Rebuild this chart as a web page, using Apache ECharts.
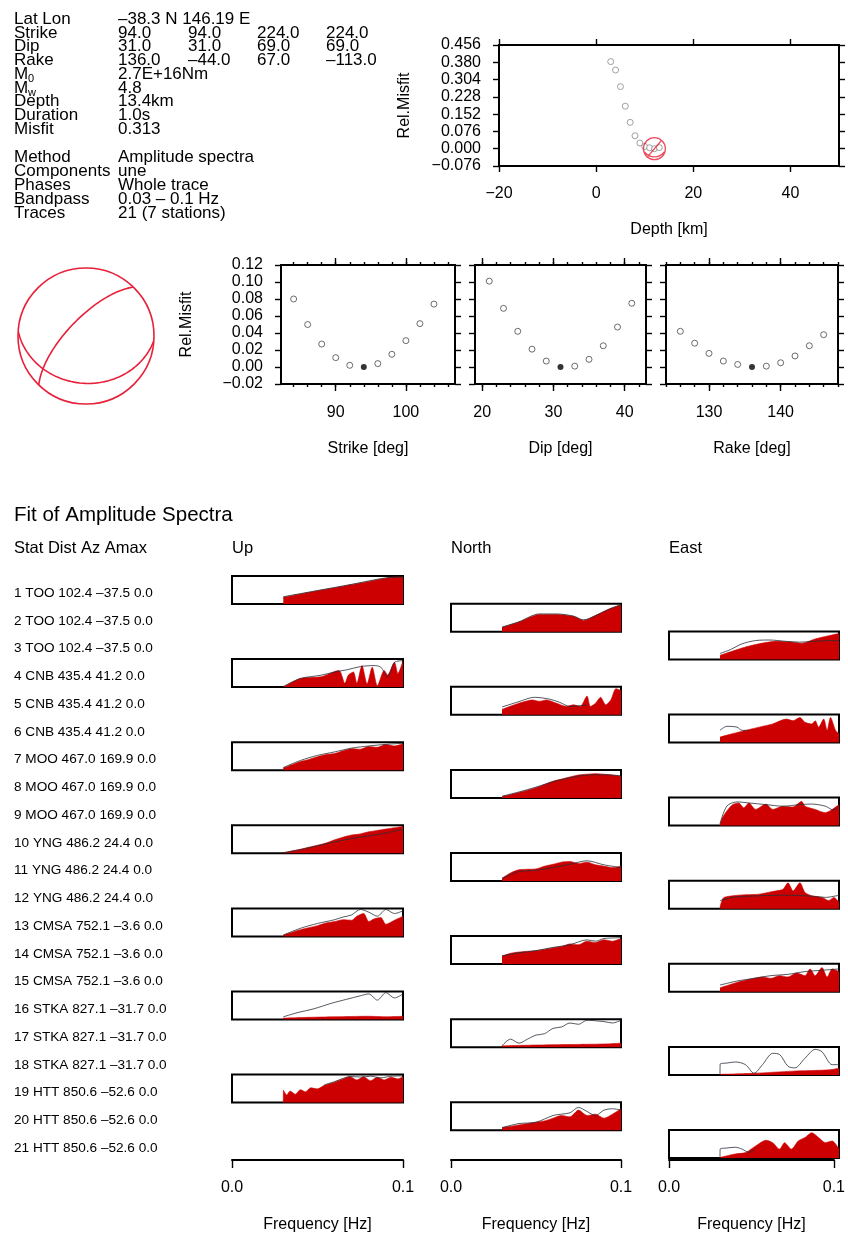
<!DOCTYPE html>
<html>
<head>
<meta charset="utf-8">
<script src="https://cdn.jsdelivr.net/npm/echarts@6/dist/echarts.min.js"></script>
<style>
html, body { margin: 0; background: #fff; }
#chart { width: 848px; height: 1234px; }
</style>
</head>
<body>
<div id="chart"></div>
<script>
// ---- header values ----
const latLon = "\u201338.3 N 146.19 E";
const strikes = [94.0, 94.0, 224.0, 224.0];
const dips = [31.0, 31.0, 69.0, 69.0];
const rakes = [136.0, -44.0, 67.0, -113.0];
const moment = "2.7E+16Nm";
const magnitude = 4.8;
const depth = 13.4;
const duration = 1.0;
const misfit = 0.313;
const method = "Amplitude spectra";
const comps = "une";
const phases = "Whole trace";
const bandpass = "0.03 \u2013 0.1 Hz";
const traces = "21 (7 stations)";

// ---- depth misfit ----
const depthKm = [3, 4, 5, 6, 7, 8, 9, 10, 11, 12, 13];
const depthMisfit = [0.383, 0.346, 0.273, 0.187, 0.116, 0.057, 0.025, 0.010, 0.004, 0.000, 0.005];
const depthXTicks = [-20, 0, 20, 40];
const depthYTicks = [-0.076, 0, 0.076, 0.152, 0.228, 0.304, 0.380, 0.456];

// ---- strike / dip / rake misfit ----
const strikeDeg = [84, 86, 88, 90, 92, 94, 96, 98, 100, 102, 104];
const strikeMisfit = [0.080, 0.050, 0.027, 0.011, 0.002, 0.000, 0.004, 0.015, 0.031, 0.051, 0.074];
const dipDeg = [21, 23, 25, 27, 29, 31, 33, 35, 37, 39, 41];
const dipMisfit = [0.101, 0.069, 0.042, 0.021, 0.007, 0.000, 0.001, 0.009, 0.025, 0.047, 0.075];
const rakeDeg = [126, 128, 130, 132, 134, 136, 138, 140, 142, 144, 146];
const rakeMisfit = [0.042, 0.028, 0.016, 0.007, 0.003, 0.000, 0.001, 0.005, 0.013, 0.025, 0.038];
const paramYTicks = [-0.02, 0, 0.02, 0.04, 0.06, 0.08, 0.10, 0.12];

// ---- nodal planes ----
const planeStrike = [94, 224];
const planeDip = [31, 69];

// ---- stations ----
const stations = ["TOO", "CNB", "MOO", "YNG", "CMSA", "STKA", "HTT"];
const distKm = [102.4, 435.4, 467.0, 486.2, 752.1, 827.1, 850.6];
const azimuth = [-37.5, 41.2, 169.9, 24.4, -3.6, -31.7, -52.6];
const compNames = ["Up", "North", "East"];
const freqTicks = [0, 0.1];

// ---- spectra: red fill and black line, [Hz, normalised amplitude] ----
const fill01 = [[0.03,0.25],[0.04,0.37],[0.05,0.49],[0.06,0.6],[0.07,0.72],[0.08,0.84],[0.09,0.96],[0.095,1.0],[0.1,1.0]];
const line01 = [[0.03,0.27],[0.05,0.5],[0.07,0.73],[0.09,0.97],[0.1,1.0]];
const fill02 = [[0.03,0.16],[0.04,0.36],[0.052,0.64],[0.062,0.64],[0.072,0.57],[0.078,0.42],[0.085,0.6],[0.093,0.84],[0.1,1.0]];
const line02 = [[0.03,0.17],[0.04,0.37],[0.052,0.66],[0.062,0.66],[0.072,0.58],[0.078,0.44],[0.085,0.6],[0.093,0.84],[0.1,1.0]];
const fill03 = [[0.03,0.15],[0.0375,0.31],[0.045,0.46],[0.053,0.58],[0.063,0.67],[0.073,0.64],[0.078,0.6],[0.086,0.76],[0.094,0.88],[0.1,0.96]];
const line03 = [[0.03,0.22],[0.036,0.36],[0.043,0.58],[0.051,0.7],[0.059,0.72],[0.069,0.67],[0.077,0.64],[0.085,0.67],[0.093,0.7],[0.1,0.7]];
const fill04 = [[0.03,0.0],[0.04,0.32],[0.052,0.38],[0.0625,0.62],[0.066,0.14],[0.068,0.44],[0.071,0.56],[0.073,0.14],[0.076,0.8],[0.079,0.12],[0.082,0.74],[0.085,0.05],[0.089,0.62],[0.091,0.45],[0.095,0.92],[0.097,0.5],[0.1,0.98]];
const line04 = [[0.03,0.02],[0.04,0.32],[0.052,0.44],[0.06,0.56],[0.067,0.64],[0.075,0.76],[0.083,0.8],[0.087,0.74],[0.091,0.38],[0.095,0.92],[0.1,0.98]];
const fill05 = [[0.03,0.2],[0.04,0.43],[0.048,0.55],[0.052,0.5],[0.056,0.55],[0.062,0.43],[0.068,0.31],[0.072,0.37],[0.076,0.31],[0.08,0.7],[0.082,0.31],[0.085,0.43],[0.088,0.65],[0.091,0.37],[0.094,0.55],[0.097,0.97],[0.1,0.9]];
const line05 = [[0.03,0.29],[0.04,0.49],[0.049,0.65],[0.058,0.58],[0.064,0.46],[0.07,0.31],[0.076,0.34],[0.08,0.36]];
const fill06 = [[0.03,0.2],[0.0375,0.33],[0.045,0.45],[0.053,0.57],[0.061,0.69],[0.069,0.87],[0.073,0.81],[0.077,0.93],[0.08,0.75],[0.084,0.69],[0.086,0.81],[0.088,0.57],[0.091,0.87],[0.093,0.45],[0.095,0.93],[0.098,0.45],[0.1,0.33]];
const line06 = [[0.03,0.45],[0.034,0.6],[0.04,0.57],[0.043,0.45],[0.047,0.45]];
const fill07 = [[0.03,0.08],[0.035,0.2],[0.04,0.32],[0.045,0.4],[0.05,0.5],[0.055,0.58],[0.06,0.62],[0.065,0.72],[0.07,0.8],[0.075,0.78],[0.08,0.88],[0.085,0.85],[0.09,0.95],[0.095,0.9],[0.1,0.98]];
const line07 = [[0.03,0.1],[0.04,0.36],[0.05,0.55],[0.06,0.68],[0.07,0.82],[0.08,0.9],[0.09,0.96],[0.1,1.0]];
const fill08 = [[0.03,0.05],[0.04,0.2],[0.05,0.38],[0.055,0.5],[0.06,0.62],[0.065,0.7],[0.07,0.78],[0.075,0.85],[0.08,0.88],[0.085,0.9],[0.09,0.88],[0.095,0.85],[0.1,0.8]];
const line08 = [[0.03,0.06],[0.04,0.22],[0.05,0.4],[0.06,0.6],[0.07,0.75],[0.08,0.85],[0.09,0.86],[0.1,0.82]];
const fill09 = [[0.03,0.0],[0.031,0.24],[0.034,0.54],[0.0375,0.78],[0.041,0.84],[0.044,0.66],[0.047,0.84],[0.051,0.6],[0.057,0.8],[0.061,0.6],[0.067,0.72],[0.073,0.69],[0.078,0.9],[0.08,0.72],[0.086,0.6],[0.092,0.48],[0.096,0.6],[0.1,0.78]];
const line09 = [[0.03,0.06],[0.034,0.72],[0.04,0.88],[0.047,0.84],[0.057,0.78],[0.067,0.72],[0.077,0.78],[0.084,0.8],[0.092,0.72],[0.097,0.57],[0.1,0.72]];
const fill10 = [[0.03,0.02],[0.04,0.15],[0.05,0.3],[0.055,0.38],[0.06,0.5],[0.065,0.6],[0.07,0.68],[0.075,0.72],[0.08,0.8],[0.085,0.85],[0.09,0.9],[0.095,0.95],[0.1,1.0]];
const line10 = [[0.03,0.02],[0.04,0.14],[0.05,0.28],[0.06,0.42],[0.07,0.55],[0.08,0.65],[0.09,0.75],[0.1,0.9]];
const fill11 = [[0.03,0.1],[0.035,0.3],[0.04,0.42],[0.05,0.45],[0.055,0.55],[0.06,0.62],[0.065,0.7],[0.07,0.72],[0.075,0.65],[0.08,0.7],[0.085,0.6],[0.09,0.55],[0.095,0.5],[0.1,0.55]];
const line11 = [[0.03,0.1],[0.04,0.35],[0.05,0.4],[0.06,0.5],[0.07,0.62],[0.08,0.75],[0.09,0.6],[0.1,0.5]];
const fill12 = [[0.03,0.05],[0.032,0.4],[0.0375,0.48],[0.045,0.52],[0.053,0.54],[0.061,0.64],[0.067,0.72],[0.07,0.96],[0.073,0.66],[0.077,0.96],[0.08,0.6],[0.084,0.48],[0.09,0.42],[0.094,0.3],[0.097,0.42],[0.1,0.24]];
const line12 = [[0.03,0.3],[0.0375,0.42],[0.053,0.48],[0.07,0.5],[0.085,0.46],[0.092,0.42],[0.1,0.5]];
const fill13 = [[0.03,0.05],[0.04,0.25],[0.05,0.4],[0.055,0.5],[0.06,0.55],[0.065,0.62],[0.07,0.6],[0.073,0.75],[0.077,0.85],[0.08,0.55],[0.083,0.65],[0.087,0.7],[0.09,0.45],[0.095,0.6],[0.1,0.75]];
const line13 = [[0.03,0.05],[0.04,0.3],[0.05,0.48],[0.06,0.62],[0.065,0.72],[0.07,0.8],[0.075,1.0],[0.08,0.9],[0.085,0.75],[0.09,1.0],[0.095,0.85],[0.1,0.95]];
const fill14 = [[0.03,0.3],[0.035,0.4],[0.04,0.45],[0.05,0.5],[0.06,0.6],[0.065,0.65],[0.07,0.75],[0.075,0.72],[0.08,0.85],[0.085,0.8],[0.09,0.9],[0.095,0.85],[0.1,0.95]];
const line14 = [[0.03,0.3],[0.04,0.42],[0.05,0.5],[0.06,0.62],[0.07,0.72],[0.08,0.9],[0.085,0.85],[0.09,0.95],[0.1,0.98]];
const fill15 = [[0.03,0.15],[0.04,0.35],[0.05,0.5],[0.055,0.55],[0.06,0.5],[0.065,0.6],[0.07,0.55],[0.075,0.7],[0.08,0.6],[0.083,0.85],[0.086,0.6],[0.09,0.9],[0.093,0.55],[0.096,0.85],[0.1,0.75]];
const line15 = [[0.03,0.25],[0.04,0.4],[0.05,0.5],[0.06,0.6],[0.07,0.65],[0.08,0.75],[0.09,0.8],[0.1,0.85]];
const fill16 = [[0.03,0.05],[0.045,0.08],[0.06,0.1],[0.08,0.12],[0.09,0.1],[0.1,0.12]];
const line16 = [[0.03,0.1],[0.038,0.25],[0.048,0.4],[0.058,0.6],[0.067,0.75],[0.075,0.88],[0.08,0.95],[0.085,0.72],[0.09,1.0],[0.095,0.8],[0.1,0.95]];
const fill17 = [[0.03,0.05],[0.05,0.08],[0.07,0.1],[0.09,0.12],[0.1,0.15]];
const line17 = [[0.03,0.05],[0.035,0.3],[0.04,0.15],[0.045,0.3],[0.05,0.45],[0.055,0.5],[0.06,0.7],[0.065,0.75],[0.07,0.9],[0.075,0.85],[0.08,1.0],[0.09,0.95],[0.095,0.9],[0.1,1.0]];
const fill18 = [[0.03,0.02],[0.05,0.06],[0.073,0.14],[0.088,0.17],[0.096,0.2],[0.1,0.26]];
const line18 = [[0.03,0.0],[0.0301,0.4],[0.034,0.44],[0.039,0.48],[0.045,0.38],[0.05,0.06],[0.055,0.38],[0.061,0.8],[0.065,0.76],[0.07,0.32],[0.074,0.26],[0.08,0.62],[0.086,0.95],[0.09,0.86],[0.096,0.38],[0.1,0.38]];
const fill19 = [[0.03,0.0],[0.0301,0.46],[0.032,0.28],[0.034,0.43],[0.037,0.31],[0.04,0.48],[0.043,0.4],[0.046,0.55],[0.05,0.51],[0.054,0.64],[0.06,0.76],[0.065,0.88],[0.069,0.96],[0.073,0.84],[0.077,0.96],[0.081,0.81],[0.085,0.94],[0.089,0.84],[0.093,0.94],[0.097,0.88],[0.1,0.96]];
const line19 = [[0.054,0.66],[0.06,0.78],[0.065,0.9],[0.069,0.97],[0.075,0.95],[0.081,0.98],[0.087,0.92],[0.093,0.98],[0.1,0.99]];
const fill20 = [[0.03,0.1],[0.04,0.2],[0.05,0.3],[0.055,0.35],[0.06,0.45],[0.065,0.55],[0.07,0.5],[0.075,0.75],[0.08,0.55],[0.085,0.6],[0.09,0.45],[0.095,0.6],[0.1,0.8]];
const line20 = [[0.03,0.1],[0.04,0.25],[0.05,0.3],[0.06,0.55],[0.065,0.6],[0.07,0.65],[0.075,0.85],[0.08,0.7],[0.085,0.55],[0.09,0.75],[0.095,0.8],[0.1,0.75]];
const fill21 = [[0.03,0.02],[0.039,0.15],[0.045,0.2],[0.051,0.45],[0.057,0.66],[0.061,0.57],[0.065,0.33],[0.068,0.57],[0.072,0.33],[0.076,0.63],[0.08,0.76],[0.084,0.94],[0.088,0.76],[0.092,0.57],[0.096,0.63],[0.1,0.33]];
const line21 = [[0.03,0.0],[0.0301,0.33],[0.034,0.37],[0.039,0.4],[0.043,0.33],[0.047,0.21],[0.05,0.3]];

const fills = [fill01, fill02, fill03, fill04, fill05, fill06, fill07, fill08, fill09, fill10, fill11, fill12, fill13, fill14, fill15, fill16, fill17, fill18, fill19, fill20, fill21];
const lines = [line01, line02, line03, line04, line05, line06, line07, line08, line09, line10, line11, line12, line13, line14, line15, line16, line17, line18, line19, line20, line21];

const ink = "#000";
const red = "#cc0000";
const ballRed = "#e8203a";
const font = '"Liberation Sans", Helvetica, Arial, sans-serif';
const dash = (s) => String(s).replace("-", "\u2013");
const minus = (v, d) => v.toFixed(d).replace("-", "\u2212");

const grids = [];
const xAxes = [];
const yAxes = [];
const series = [];
const graphic = [];

const addGrid = (g) => { grids.push(g); return grids.length - 1; };
const addX = (a) => { xAxes.push(a); return xAxes.length - 1; };
const addY = (a) => { yAxes.push(a); return yAxes.length - 1; };

const txt = (x, y, text, size, extra) => {
    graphic.push({
        type: "text", x: x, y: y, silent: true,
        style: Object.assign({ text: text, fontSize: size, fontFamily: font, fill: ink, verticalAlign: "middle" }, extra || {})
    });
};

// axis that only draws ticks (outside the box) at the given values
const tickAxis = (grid, pos, ticks, len, extra) => Object.assign({
    gridIndex: grid, type: "value", position: pos,
    axisLine: { show: false, onZero: false },
    axisTick: { show: true, inside: false, length: len, customValues: ticks, lineStyle: { color: ink, width: 1.4 } },
    axisLabel: { show: false },
    splitLine: { show: false }
}, extra || {});

const labelStyle = { color: ink, fontSize: 16, fontFamily: font };

// ---------- header text ----------
const rowY = [19, 33, 46.5, 60, 74, 88, 101.5, 115.5, 129, 157, 171, 185, 199, 213];
const headRows = [
    ["Lat Lon", [latLon]],
    ["Strike", strikes.map((v) => v.toFixed(1))],
    ["Dip", dips.map((v) => v.toFixed(1))],
    ["Rake", rakes.map((v) => dash(v.toFixed(1)))],
    ["M", [moment]],
    ["M", [magnitude.toFixed(1)]],
    ["Depth", [depth.toFixed(1) + "km"]],
    ["Duration", [duration.toFixed(1) + "s"]],
    ["Misfit", [misfit.toFixed(3)]],
    ["Method", [method]],
    ["Components", [comps]],
    ["Phases", [phases]],
    ["Bandpass", [bandpass]],
    ["Traces", [traces]]
];
const colX = [118, 188, 257, 326];
headRows.forEach((r, i) => {
    txt(14, rowY[i], r[0], 17);
    r[1].forEach((v, j) => txt(colX[j], rowY[i], v, 17));
});
txt(28, rowY[4] + 5, "0", 11);
txt(28, rowY[5] + 5, "w", 11);

// ---------- depth plot ----------
const gD = addGrid({ left: 499, top: 45, width: 340, height: 121, show: true, borderColor: ink, borderWidth: 2 });
const xD = addX(tickAxis(gD, "bottom", depthXTicks, 6, {
    min: -20, max: 50,
    axisLabel: { show: true, customValues: depthXTicks, margin: 20, formatter: (v) => minus(v, 0), ...labelStyle },
    name: "Depth [km]", nameLocation: "middle", nameGap: 56, nameTextStyle: labelStyle
}));
addX(tickAxis(gD, "top", depthXTicks, 6, { min: -20, max: 50 }));
const yD = addY(tickAxis(gD, "left", depthYTicks, 6, {
    min: -0.076, max: 0.456,
    axisLabel: { show: true, customValues: depthYTicks, margin: 18, formatter: (v) => minus(v, 3), ...labelStyle },
    name: "Rel.Misfit", nameLocation: "middle", nameGap: 86, nameTextStyle: labelStyle
}));
addY(tickAxis(gD, "right", depthYTicks, 6, { min: -0.076, max: 0.456 }));
series.push({
    type: "scatter", xAxisIndex: xD, yAxisIndex: yD, symbol: "circle", symbolSize: 6,
    itemStyle: { color: "#fff", borderColor: "#8a8a8a", borderWidth: 1 },
    data: depthKm.map((d, i) => [d, depthMisfit[i]]), z: 3
});
const bestD = depthMisfit.indexOf(Math.min(...depthMisfit));
series.push({
    type: "scatter", xAxisIndex: xD, yAxisIndex: yD,
    symbol: "path://M20,10A10,10,0,1,1,0,10A10,10,0,1,1,20,10Z M4,17L16,3 M1,13C6,19,14,19,19,13",
    symbolSize: 22,
    itemStyle: { color: "none", borderColor: ballRed, borderWidth: 1.3 },
    data: [[depthKm[bestD], depthMisfit[bestD]]], z: 4
});

// ---------- strike / dip / rake plots ----------
const params = [
    { left: 281, width: 174, min: 82.2, max: 107, major: [90, 100], deg: strikeDeg, mis: strikeMisfit, name: "Strike [deg]" },
    { left: 475, width: 171, min: 19, max: 43, major: [20, 30, 40], deg: dipDeg, mis: dipMisfit, name: "Dip [deg]" },
    { left: 666, width: 172, min: 124, max: 148, major: [130, 140], deg: rakeDeg, mis: rakeMisfit, name: "Rake [deg]" }
];
params.forEach((p, k) => {
    const g = addGrid({ left: p.left, top: 265, width: p.width, height: 119, show: true, borderColor: ink, borderWidth: 2 });
    const minor = [];
    for (let v = Math.ceil(p.min / 2) * 2; v <= p.max; v += 2) minor.push(v);
    const xi = addX(tickAxis(g, "bottom", minor, 3, {
        min: p.min, max: p.max,
        axisLabel: { show: true, customValues: p.major, margin: 21, ...labelStyle },
        name: p.name, nameLocation: "middle", nameGap: 57, nameTextStyle: labelStyle
    }));
    addX(tickAxis(g, "bottom", p.major, 7, { min: p.min, max: p.max }));
    addX(tickAxis(g, "top", minor, 3, { min: p.min, max: p.max }));
    addX(tickAxis(g, "top", p.major, 7, { min: p.min, max: p.max }));
    const yi = addY(tickAxis(g, "left", paramYTicks, 6, k === 0 ? {
        min: -0.02, max: 0.12,
        axisLabel: { show: true, customValues: paramYTicks, margin: 18, formatter: (v) => minus(v, 2), ...labelStyle },
        name: "Rel.Misfit", nameLocation: "middle", nameGap: 86, nameTextStyle: labelStyle
    } : { min: -0.02, max: 0.12 }));
    addY(tickAxis(g, "right", paramYTicks, 6, { min: -0.02, max: 0.12 }));
    const best = p.mis.indexOf(Math.min(...p.mis));
    series.push({
        type: "scatter", xAxisIndex: xi, yAxisIndex: yi, symbol: "circle", symbolSize: 6,
        itemStyle: { color: "#fff", borderColor: "#333", borderWidth: 0.9 },
        data: p.deg.map((d, i) => [d, p.mis[i]]).filter((_, i) => i !== best)
    });
    series.push({
        type: "scatter", xAxisIndex: xi, yAxisIndex: yi, symbol: "circle", symbolSize: 6,
        itemStyle: { color: "#000" },
        data: [[p.deg[best], p.mis[best]]]
    });
});

// ---------- beach ball (equal-area lower hemisphere) ----------
const nodalCurve = (strike, dip) => {
    const pts = [];
    const d = (dip * Math.PI) / 180;
    for (let b = 0; b <= 180; b += 3) {
        const br = (b * Math.PI) / 180;
        const plunge = Math.asin(Math.sin(d) * Math.sin(br));
        const trend = strike + (Math.atan2(Math.cos(d) * Math.sin(br), Math.cos(br)) * 180) / Math.PI;
        const r = Math.SQRT2 * Math.sin((Math.PI / 2 - plunge) / 2);
        pts.push([r, ((trend % 360) + 360) % 360]);
    }
    return pts;
};
planeStrike.forEach((s, i) => {
    series.push({
        type: "line", coordinateSystem: "polar", polarIndex: 0, showSymbol: false, silent: true,
        lineStyle: { color: ballRed, width: 1.6 },
        data: nodalCurve(s, planeDip[i])
    });
});

// ---------- spectra ----------
txt(14, 515, "Fit of Amplitude Spectra", 20.5);
txt(14, 548, "Stat Dist Az Amax", 16.5);
const colLeft = [232, 451, 669];
const colWidth = [171, 170, 170];
compNames.forEach((c, i) => txt(colLeft[i], 548, c, 16.5));

for (let t = 0; t < 21; t++) {
    const s = Math.floor(t / 3);
    const c = t % 3;
    txt(14, 593 + t * 27.75, `${t + 1} ${stations[s]} ${distKm[s].toFixed(1)} ${dash(azimuth[s].toFixed(1))} 0.0`, 13.6);
    const g = addGrid({ left: colLeft[c], top: 576 + t * 27.7, width: colWidth[c], height: 28, show: true, borderColor: ink, borderWidth: 2 });
    const xi = addX({ gridIndex: g, type: "value", min: 0, max: 0.1, show: false });
    const yi = addY({ gridIndex: g, type: "value", min: 0, max: 1.04, show: false });
    series.push({
        type: "line", xAxisIndex: xi, yAxisIndex: yi, showSymbol: false, smooth: 0.25, silent: true,
        lineStyle: { color: red, width: 0.6 }, areaStyle: { color: red, opacity: 1 },
        data: fills[t], z: 2
    });
    series.push({
        type: "line", xAxisIndex: xi, yAxisIndex: yi, showSymbol: false, smooth: 0.3, silent: true,
        lineStyle: { color: "#2a2f38", width: 0.8 },
        data: lines[t], z: 3
    });
}

// frequency axes
colLeft.forEach((l, i) => {
    const g = addGrid({ left: l, top: 1159, width: colWidth[i], height: 1, show: false });
    addX({
        gridIndex: g, type: "value", min: 0, max: 0.1, position: "bottom",
        axisLine: { show: true, onZero: false, lineStyle: { color: ink, width: 2 } },
        axisTick: { show: true, inside: false, length: 8, customValues: freqTicks, lineStyle: { color: ink, width: 1.4 } },
        axisLabel: { customValues: freqTicks, margin: 20, formatter: (v) => v.toFixed(1), ...labelStyle },
        splitLine: { show: false },
        name: "Frequency [Hz]", nameLocation: "middle", nameGap: 57, nameTextStyle: labelStyle
    });
    addY({ gridIndex: g, type: "value", show: false });
});

const chart = echarts.init(document.getElementById("chart"), null, { renderer: "canvas" });
chart.setOption({
    animation: false,
    backgroundColor: "#fff",
    textStyle: { fontFamily: font },
    grid: grids,
    xAxis: xAxes,
    yAxis: yAxes,
    polar: [{ center: [86, 336], radius: 68 }],
    angleAxis: [{
        polarIndex: 0, type: "value", min: 0, max: 360, startAngle: 90, clockwise: true,
        axisLine: { show: true, lineStyle: { color: ballRed, width: 1.6 } },
        axisTick: { show: false }, axisLabel: { show: false }, splitLine: { show: false }
    }],
    radiusAxis: [{ polarIndex: 0, type: "value", min: 0, max: 1, show: false }],
    series: series,
    graphic: graphic
});
</script>
</body>
</html>
